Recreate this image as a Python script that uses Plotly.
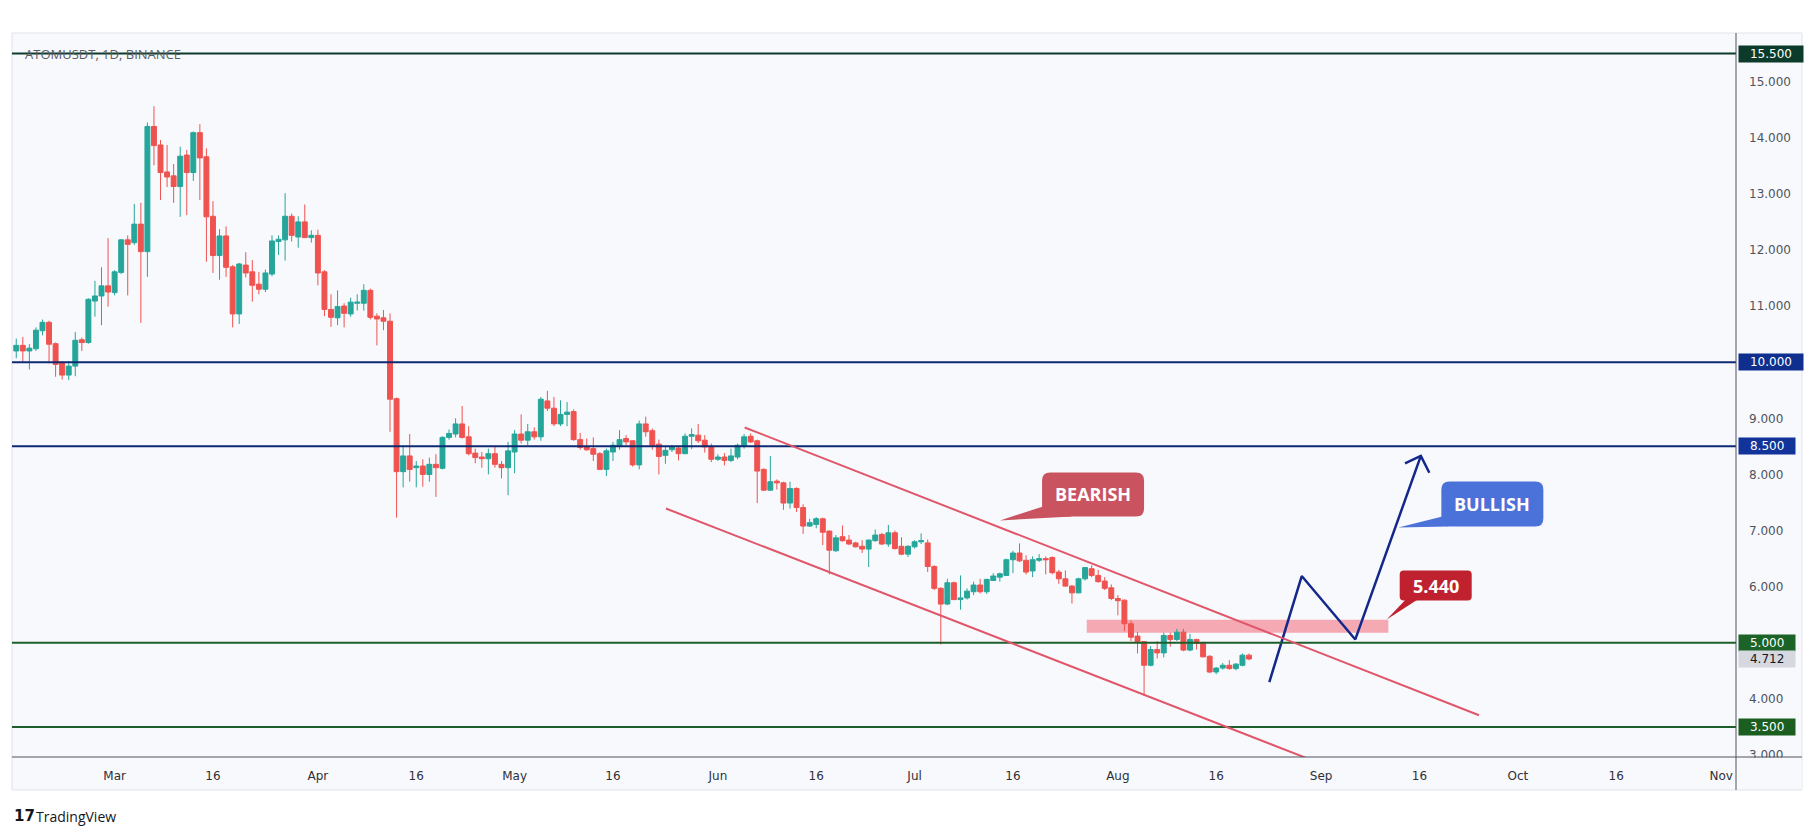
import plotly.graph_objects as go
import pandas as pd

# ------------------------------------------------------------------ data
start_date = "2024-02-15"

opens = [
    10.20, 10.30, 10.20, 10.24, 10.56, 10.71, 10.33, 9.99, 9.77, 9.93, 10.40, 10.35, 11.09, 11.18, 11.36,
    11.24, 11.60, 12.18, 12.13, 12.46, 11.97, 14.20, 13.87, 13.39, 13.32, 13.13, 13.69, 13.38, 14.09, 13.66, 12.60,
    11.90, 12.25, 11.70, 10.86, 11.73, 11.61, 11.39, 11.30, 11.57, 12.15, 12.18, 12.60, 12.23, 12.50, 12.22,
    12.26, 11.61, 10.94, 10.79, 11.00, 10.86, 11.05, 11.05, 11.28, 10.82, 10.79, 10.73, 9.35, 8.05, 8.33,
    8.12, 8.15, 8.00, 8.18, 8.11, 8.66, 8.72, 8.90, 8.67, 8.38, 8.31, 8.28, 8.37, 8.18, 8.12,
    8.40, 8.72, 8.61, 8.76, 8.67, 9.31, 9.18, 8.90, 9.07, 9.12, 8.62, 8.49, 8.46, 8.37, 8.09, 8.40,
    8.50, 8.64, 8.60, 8.17, 8.90, 8.78, 8.54, 8.34, 8.44, 8.47, 8.37, 8.68, 8.70, 8.61, 8.50,
    8.27, 8.31, 8.25, 8.31, 8.50, 8.68, 8.60, 8.09, 7.72, 7.88, 7.85, 7.49, 7.75, 7.41, 7.08,
    7.11, 7.21, 6.99, 6.64, 6.89, 6.83, 6.78, 6.72, 6.67, 6.82, 6.93, 6.76, 6.96, 6.72, 6.58,
    6.71, 6.80, 6.78, 6.36, 5.97, 5.69, 6.07, 5.77, 5.80, 5.91, 6.03, 5.91, 6.11, 6.17, 6.20, 6.48,
    6.60, 6.47, 6.28, 6.47, 6.50, 6.52, 6.26, 6.14, 6.01, 5.89, 6.14, 6.32, 6.20, 6.10, 5.98,
    5.79, 5.76, 5.34, 5.12, 5.02, 4.60, 4.88, 4.82, 5.13, 5.06, 5.19, 4.87, 5.06, 4.99, 4.76, 4.48,
    4.55, 4.60, 4.54, 4.60, 4.78,
]
highs = [
    10.42, 10.45, 10.32, 10.62, 10.76, 10.74, 10.35, 10.02, 10.02, 10.54, 10.44, 11.14, 11.45, 11.69, 12.21,
    11.64, 12.19, 12.26, 12.82, 12.84, 14.27, 14.56, 13.96, 13.87, 13.53, 13.84, 13.78, 14.11, 14.24, 13.81, 12.87,
    12.37, 12.42, 11.73, 11.77, 11.96, 11.82, 11.61, 11.65, 12.26, 12.26, 13.01, 12.65, 12.60, 12.81, 12.35,
    12.36, 11.64, 11.21, 11.28, 11.05, 11.15, 11.21, 11.39, 11.31, 10.87, 10.93, 10.87, 9.37, 8.52, 8.72,
    8.24, 8.27, 8.30, 8.36, 8.68, 8.80, 9.00, 9.22, 8.86, 8.46, 8.40, 8.46, 8.49, 8.24, 8.58,
    8.79, 9.07, 8.90, 8.84, 9.38, 9.49, 9.38, 9.32, 9.29, 9.16, 8.74, 8.64, 8.66, 8.40, 8.46, 8.58,
    8.79, 8.70, 8.61, 8.96, 9.03, 8.82, 8.62, 8.50, 8.52, 8.50, 8.73, 8.82, 8.90, 8.70, 8.55,
    8.36, 8.38, 8.46, 8.55, 8.72, 8.73, 8.62, 8.11, 8.33, 7.91, 7.87, 7.87, 7.77, 7.47, 7.21,
    7.24, 7.23, 7.00, 6.92, 7.09, 6.92, 6.80, 6.83, 6.84, 7.02, 6.96, 7.10, 7.00, 6.88, 6.74,
    6.83, 6.95, 6.84, 6.38, 5.99, 6.14, 6.09, 6.20, 5.97, 6.09, 6.14, 6.14, 6.24, 6.25, 6.50, 6.64,
    6.77, 6.56, 6.54, 6.58, 6.54, 6.54, 6.30, 6.29, 6.03, 6.16, 6.35, 6.38, 6.30, 6.17, 6.04,
    5.85, 5.77, 5.40, 5.19, 5.03, 4.94, 5.03, 5.18, 5.18, 5.25, 5.25, 5.16, 5.07, 5.02, 4.78, 4.57,
    4.64, 4.69, 4.64, 4.81, 4.81,
]
lows = [
    10.07, 9.99, 9.87, 10.20, 10.48, 9.98, 9.74, 9.69, 9.68, 9.75, 10.20, 10.33, 10.81, 10.66, 10.99,
    11.19, 11.57, 11.19, 12.09, 10.70, 11.52, 13.51, 12.89, 13.12, 12.84, 12.59, 12.62, 13.23, 12.89, 11.79, 11.59,
    11.47, 11.52, 10.62, 10.68, 11.51, 11.08, 11.21, 11.25, 11.53, 11.91, 11.81, 12.15, 12.04, 12.21, 12.13,
    11.37, 10.82, 10.63, 10.66, 10.62, 10.81, 10.92, 10.92, 10.76, 10.30, 10.57, 8.76, 7.23, 7.77, 7.87,
    7.77, 7.78, 7.87, 7.60, 8.09, 8.62, 8.66, 8.64, 8.34, 8.20, 8.12, 8.00, 8.12, 7.93, 7.63,
    8.02, 8.55, 8.52, 8.62, 8.60, 9.13, 8.86, 8.86, 8.86, 8.60, 8.44, 8.42, 8.24, 8.08, 7.97, 8.24,
    8.44, 8.52, 8.14, 8.09, 8.67, 8.44, 8.00, 8.19, 8.40, 8.25, 8.36, 8.45, 8.56, 8.39, 8.22,
    8.24, 8.16, 8.22, 8.27, 8.46, 8.56, 7.49, 7.71, 7.71, 7.73, 7.37, 7.39, 7.33, 6.94, 7.07,
    7.04, 6.74, 6.22, 6.62, 6.80, 6.74, 6.70, 6.60, 6.35, 6.80, 6.74, 6.71, 6.66, 6.56, 6.53,
    6.68, 6.76, 6.26, 5.94, 4.97, 5.67, 5.76, 5.59, 5.77, 5.85, 5.88, 5.87, 6.10, 6.09, 6.19, 6.24,
    6.44, 6.22, 6.17, 6.44, 6.22, 6.22, 6.05, 6.00, 5.70, 5.88, 6.11, 6.17, 6.07, 5.94, 5.76,
    5.49, 5.21, 5.03, 4.81, 4.05, 4.58, 4.72, 4.74, 4.93, 5.03, 4.85, 4.85, 4.88, 4.74, 4.46, 4.44,
    4.52, 4.52, 4.51, 4.58, 4.69,
]
closes = [
    10.30, 10.20, 10.25, 10.57, 10.71, 10.32, 9.96, 9.77, 9.93, 10.39, 10.35, 11.12, 11.18, 11.36, 11.25,
    11.61, 12.18, 12.10, 12.46, 11.97, 14.20, 13.86, 13.38, 13.30, 13.13, 13.67, 13.38, 14.09, 13.64, 12.59, 11.90,
    12.25, 11.69, 10.86, 11.75, 11.59, 11.37, 11.30, 11.59, 12.16, 12.19, 12.60, 12.26, 12.50, 12.22, 12.26,
    11.59, 10.94, 10.80, 10.99, 10.87, 11.07, 11.07, 11.28, 10.80, 10.77, 10.73, 9.34, 8.05, 8.33, 8.09,
    8.15, 8.00, 8.18, 8.12, 8.66, 8.73, 8.90, 8.66, 8.37, 8.30, 8.28, 8.37, 8.18, 8.12, 8.42,
    8.72, 8.61, 8.76, 8.67, 9.34, 9.18, 8.90, 9.07, 9.11, 8.62, 8.48, 8.44, 8.36, 8.09, 8.42, 8.52,
    8.62, 8.58, 8.17, 8.90, 8.76, 8.52, 8.32, 8.43, 8.49, 8.37, 8.68, 8.71, 8.60, 8.49, 8.27,
    8.31, 8.25, 8.33, 8.52, 8.67, 8.58, 8.06, 7.72, 7.87, 7.85, 7.49, 7.75, 7.41, 7.08, 7.14,
    7.21, 6.97, 6.65, 6.87, 6.82, 6.76, 6.71, 6.67, 6.83, 6.92, 6.76, 6.96, 6.68, 6.58, 6.72,
    6.80, 6.82, 6.36, 5.97, 5.69, 6.07, 5.77, 5.80, 5.92, 6.03, 5.91, 6.13, 6.19, 6.23, 6.48, 6.60,
    6.46, 6.26, 6.48, 6.50, 6.48, 6.25, 6.14, 6.01, 5.89, 6.14, 6.34, 6.20, 6.09, 5.97, 5.79,
    5.75, 5.34, 5.10, 5.02, 4.60, 4.88, 4.82, 5.13, 5.06, 5.19, 4.87, 5.06, 4.99, 4.75, 4.48, 4.55,
    4.60, 4.54, 4.62, 4.78, 4.712,
]
assert len(opens) == len(highs) == len(lows) == len(closes) == 189

# horizontal key levels
level_values = [15.5, 10.0, 8.5, 5.0, 3.5]
level_labels = ["15.500", "10.000", "8.500", "5.000", "3.500"]

# price axis ticks
ytick_values = [3, 4, 6, 7, 8, 9, 11, 12, 13, 14, 15]
ytick_labels = [f"{v:.3f}" for v in ytick_values]

# time axis ticks
xtick_dates = ["2024-03-01", "2024-03-16", "2024-04-01", "2024-04-16", "2024-05-01", "2024-05-16",
               "2024-06-01", "2024-06-16", "2024-07-01", "2024-07-16", "2024-08-01", "2024-08-16",
               "2024-09-01", "2024-09-16", "2024-10-01", "2024-10-16", "2024-11-01"]
xtick_labels = ["Mar", "16", "Apr", "16", "May", "16", "Jun", "16", "Jul", "16", "Aug", "16",
                "Sep", "16", "Oct", "16", "Nov"]

# analyst drawings (date, price)
channel_upper_dates = ["2024-06-05 02:00", "2024-09-25 02:00"]
channel_upper_prices = [8.837, 3.71]
channel_lower_dates = ["2024-05-24 02:00", "2024-09-15 00:00"]
channel_lower_prices = [7.393, 2.207]

zone_dates = ["2024-07-27 06:00", "2024-09-11 06:00"]
zone_prices = [5.18, 5.41]

projection_dates = ["2024-08-24 02:24", "2024-08-29 01:00", "2024-09-06 05:00", "2024-09-16 05:00"]
projection_prices = [4.30, 6.19, 5.06, 8.33]
arrowhead_dates = ["2024-09-13 19:00", "2024-09-16 05:00", "2024-09-17 12:00"]
arrowhead_prices = [8.195, 8.33, 8.03]

current_price = 4.712
callout_texts = ["BEARISH", "BULLISH", "5.440"]
callout_dates = ["2024-07-14 00:48", "2024-09-12 18:40", "2024-09-11 00:00"]
callout_prices = [7.18, 7.054, 5.414]

# ------------------------------------------------------------------ style
W, H = 1815, 836
M_L, M_R, M_T, M_B = 12, 79, 33, 79
PW = W - M_L - M_R
PH = H - M_T - M_B
PANEL = "#f8f9fc"
UP, DOWN = "#26a69a", "#ef5350"
level_line_colors = ["#0f3b2c", "#0e2a72", "#0e2a72", "#1d5e2a", "#1d5e2a"]
level_box_colors = ["#0c3b2b", "#0f2f8f", "#12339a", "#1b6326", "#1b5e20"]
CHANNEL = "#e0566a"
NAVY = "#14288c"
AXIS_FONT = "DejaVu Sans"


def px_x(px):
    return (px - M_L) / PW


def px_y(py):
    return 1 - (py - M_T) / PH


fig = go.Figure()

dates = pd.date_range(start_date, periods=len(closes), freq="D")
fig.add_trace(go.Candlestick(
    x=dates, open=opens, high=highs, low=lows, close=closes,
    increasing=dict(line=dict(color=UP, width=1), fillcolor=UP),
    decreasing=dict(line=dict(color=DOWN, width=1), fillcolor=DOWN),
    whiskerwidth=0, showlegend=False, hoverinfo="skip",
))

# projection path
fig.add_trace(go.Scatter(x=projection_dates, y=projection_prices, mode="lines",
                         line=dict(color=NAVY, width=2.5), showlegend=False, hoverinfo="skip"))
fig.add_trace(go.Scatter(x=arrowhead_dates, y=arrowhead_prices, mode="lines",
                         line=dict(color=NAVY, width=2.5), showlegend=False, hoverinfo="skip"))

shapes = []
# panel background + border
shapes.append(dict(type="rect", xref="paper", yref="paper", x0=px_x(12), x1=px_x(1802),
                   y0=px_y(790), y1=px_y(33), fillcolor=PANEL,
                   line=dict(color="#e0e3eb", width=1), layer="below"))

# zone
shapes.append(dict(type="rect", xref="x", yref="y", x0=zone_dates[0], x1=zone_dates[1],
                   y0=zone_prices[0], y1=zone_prices[1], fillcolor="rgba(240,90,105,0.5)",
                   line=dict(width=0), layer="below"))

# levels
for v, c in zip(level_values, level_line_colors):
    shapes.append(dict(type="line", xref="paper", yref="y", x0=0, x1=1, y0=v, y1=v,
                       line=dict(color=c, width=2)))

# channel
shapes.append(dict(type="line", xref="x", yref="y", x0=channel_upper_dates[0], x1=channel_upper_dates[1],
                   y0=channel_upper_prices[0], y1=channel_upper_prices[1], line=dict(color=CHANNEL, width=2)))
shapes.append(dict(type="line", xref="x", yref="y", x0=channel_lower_dates[0], x1=channel_lower_dates[1],
                   y0=channel_lower_prices[0], y1=channel_lower_prices[1], line=dict(color=CHANNEL, width=2)))


def rounded(x0, x1, y0, y1, r):
    return (f"M{x0 + r},{y0} L{x1 - r},{y0} Q{x1},{y0} {x1},{y0 + r} L{x1},{y1 - r} "
            f"Q{x1},{y1} {x1 - r},{y1} L{x0 + r},{y1} Q{x0},{y1} {x0},{y1 - r} "
            f"L{x0},{y0 + r} Q{x0},{y0} {x0 + r},{y0} Z")


# callouts: (box x0,x1,y0,y1 in px relative to tip, radius, tail pts, colour, font size)
callout_geom = [
    dict(box=(42, 144, 4, 48), r=8, tail=[(0, 0), (43, 14), (72, 4)], color="#c9545f", size=18),
    dict(box=(43, 145, 1, 46), r=8, tail=[(0, 0), (44, 11), (50, 1)], color="#4b72d8", size=18),
    dict(box=(13, 85, 19, 49), r=4, tail=[(0, 0), (19, 20), (31, 20)], color="#c0212f", size=18),
]
annotations = []
for txt, d, p, g in zip(callout_texts, callout_dates, callout_prices, callout_geom):
    x0, x1, y0, y1 = g["box"]
    common = dict(type="path", xref="x", yref="y", xsizemode="pixel", ysizemode="pixel",
                  xanchor=d, yanchor=p, fillcolor=g["color"], line=dict(width=0))
    shapes.append(dict(path=rounded(x0, x1, y0, y1, g["r"]), **common))
    t = g["tail"]
    shapes.append(dict(path=f"M{t[0][0]},{t[0][1]} L{t[1][0]},{t[1][1]} L{t[2][0]},{t[2][1]} Z", **common))
    annotations.append(dict(x=d, y=p, xref="x", yref="y", text=f"<b>{txt}</b>", showarrow=False,
                            xanchor="center", yanchor="middle", xshift=(x0 + x1) / 2,
                            yshift=(y0 + y1) / 2,
                            font=dict(family="Open Sans", size=g["size"], color="white")))

# cover lower part of clipped bottom tick label, then axis lines
shapes.append(dict(type="rect", xref="paper", yref="paper", x0=px_x(1737), x1=px_x(1801.5),
                   y0=px_y(789), y1=px_y(757.5), fillcolor=PANEL, line=dict(width=0), layer="above"))
shapes.append(dict(type="line", xref="paper", yref="paper", x0=px_x(12), x1=px_x(1802),
                   y0=px_y(757), y1=px_y(757), line=dict(color="#50535e", width=1), layer="above"))
shapes.append(dict(type="line", xref="paper", yref="paper", x0=px_x(1736), x1=px_x(1736),
                   y0=px_y(790), y1=px_y(33), line=dict(color="#50535e", width=1), layer="above"))

# price labels on the axis
def text_w(s):
    return sum(3.81 if ch == "." else 7.63 for ch in s)


for v, lab, c in zip(level_values, level_labels, level_box_colors):
    annotations.append(dict(x=1, y=v, xref="paper", yref="y", text=lab, showarrow=False,
                            xanchor="left", yanchor="middle", xshift=2, width=text_w(lab) + 20,
                            align="center", bgcolor=c, borderpad=1,
                            font=dict(family=AXIS_FONT, size=12, color="white")))
lab = f"{current_price:.3f}"
annotations.append(dict(x=1, y=current_price, xref="paper", yref="y", text=lab, showarrow=False,
                        xanchor="left", yanchor="middle", xshift=2, width=text_w(lab) + 20,
                        align="center", bgcolor="#d5d8df", borderpad=1,
                        font=dict(family=AXIS_FONT, size=12, color="#131722")))

# symbol text & logo
annotations.append(dict(x=px_x(23), y=px_y(54), xref="paper", yref="paper", text="ATOMUSDT, 1D, BINANCE",
                        showarrow=False, xanchor="left", yanchor="middle",
                        font=dict(family="Open Sans", size=13, color="#5a5d68")))
annotations.append(dict(x=px_x(12), y=px_y(816), xref="paper", yref="paper", text="<b>17</b>",
                        showarrow=False, xanchor="left", yanchor="middle",
                        font=dict(family="DejaVu Sans", size=15, color="#131722")))
annotations.append(dict(x=px_x(34), y=px_y(816), xref="paper", yref="paper", text="TradingView",
                        showarrow=False, xanchor="left", yanchor="middle",
                        font=dict(family="Open Sans", size=14, color="#131722")))

y_top = 15.5 + (53.5 - M_T) / 56.1
y_bot = 3.5 - (H - M_B - 727) / 56.1

fig.update_layout(
    width=W, height=H,
    margin=dict(l=M_L, r=M_R, t=M_T, b=M_B, pad=0),
    paper_bgcolor="white", plot_bgcolor=PANEL,
    shapes=shapes, annotations=annotations,
    hovermode=False, showlegend=False, dragmode=False,
    boxgap=0.25, boxgroupgap=0.0,
    xaxis=dict(type="date", range=["2024-02-14 08:24", "2024-11-03 06:30"],
               rangeslider=dict(visible=False), showgrid=False, zeroline=False, showline=False,
               ticks="", tickvals=xtick_dates, ticktext=xtick_labels, ticklabelstandoff=10,
               tickfont=dict(family=AXIS_FONT, size=12, color="#2e3039")),
    yaxis=dict(range=[y_bot, y_top], side="right", showgrid=False, zeroline=False, showline=False,
               ticks="", tickvals=ytick_values, ticktext=ytick_labels, ticklabelstandoff=12,
               tickfont=dict(family=AXIS_FONT, size=12, color="#50535e")),
)

fig.write_html("out.html", config={"displayModeBar": False, "staticPlot": True})
